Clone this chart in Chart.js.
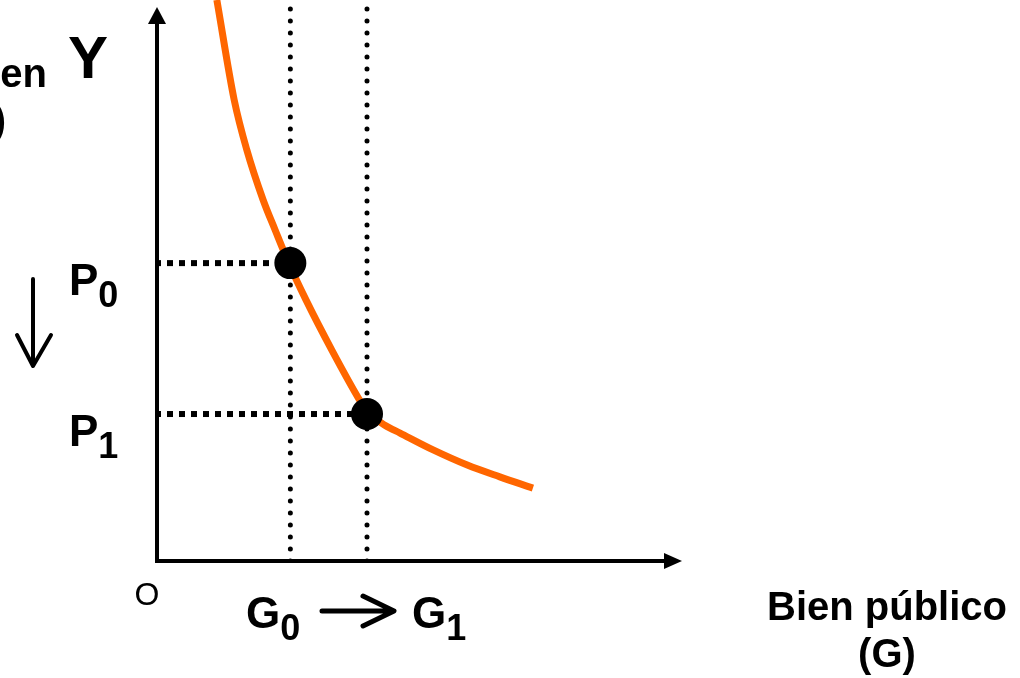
<!DOCTYPE html>
<html>
<head>
<meta charset="utf-8">
<script src="https://cdn.jsdelivr.net/npm/chart.js@4.4.0/dist/chart.umd.min.js"></script>
<style>
  html, body { margin: 0; padding: 0; background: #fff; }
  #wrap { width: 1020px; height: 678px; }
</style>
</head>
<body>
<div id="wrap"><canvas id="chart" width="1020" height="678"></canvas></div>
<script>
// curva (lectura aproximada de la figura), unidades arbitrarias 0-10
const curveG = [1.14, 1.47, 1.71, 2.02, 2.25, 2.51, 2.84, 3.33, 3.87, 4.00, 4.15, 4.34, 4.63, 5.26, 5.91, 6.53, 7.16];
const curveY = [10.0, 8.22, 7.33, 6.44, 5.90, 5.31, 4.65, 3.76, 2.85, 2.66, 2.55, 2.42, 2.28, 1.98, 1.71, 1.50, 1.30];

// puntos de equilibrio
const pointLabels = ["0", "1"];
const pointG = [2.54, 4.0];
const pointP = [5.31, 2.62];

const axisMax = 10;

const FONT = '"Liberation Sans", Arial, sans-serif';
const ORANGE = "#ff6600";

const curveData = curveG.map((g, i) => ({ x: g, y: curveY[i] }));

const dotted = [];
pointG.forEach((g, i) => {
  // vertical punteada hasta arriba
  dotted.push({
    data: [{ x: g, y: 0 }, { x: g, y: axisMax }],
    showLine: true,
    borderColor: "#000",
    borderWidth: 5,
    borderDash: [0, 12],
    borderCapStyle: "round",
    pointRadius: 0,
    order: 3
  });
  // horizontal hasta el eje Y
  dotted.push({
    data: [{ x: 0, y: pointP[i] }, { x: g, y: pointP[i] }],
    showLine: true,
    borderColor: "#000",
    borderWidth: 6,
    borderDash: [6, 6],
    borderDashOffset: 2,
    borderCapStyle: "butt",
    pointRadius: 0,
    order: 3
  });
});

const subText = (ctx, main, sub, x, base, size, subSize, drop) => {
  ctx.textAlign = "left";
  ctx.textBaseline = "alphabetic";
  ctx.font = `bold ${size}px ${FONT}`;
  ctx.fillText(main, x, base);
  const w = ctx.measureText(main).width;
  ctx.font = `bold ${subSize}px ${FONT}`;
  ctx.fillText(sub, x + w, base + drop);
};

const arrowHead = (ctx, tipX, tipY, dx, dy, len, half) => {
  // punta rellena, dx/dy = direccion
  const bx = tipX - dx * len, by = tipY - dy * len;
  ctx.beginPath();
  ctx.moveTo(tipX, tipY);
  ctx.lineTo(bx - dy * half, by + dx * half);
  ctx.lineTo(bx + dy * half, by - dx * half);
  ctx.closePath();
  ctx.fill();
};

const decor = {
  id: "decor",
  afterDatasetsDraw(chart) {
    const { ctx, chartArea, scales } = chart;
    const x0 = scales.x.getPixelForValue(0);
    const y0 = scales.y.getPixelForValue(0);
    ctx.save();
    ctx.fillStyle = "#000";
    ctx.strokeStyle = "#000";

    // ejes
    ctx.lineWidth = 4;
    ctx.lineCap = "butt";
    ctx.beginPath();
    ctx.moveTo(x0, chartArea.top + 20);
    ctx.lineTo(x0, y0);
    ctx.lineTo(chartArea.right - 16, y0);
    ctx.stroke();
    arrowHead(ctx, x0, chartArea.top + 7, 0, -1, 17, 9);
    arrowHead(ctx, chartArea.right, y0, 1, 0, 18, 8);

    // textos
    ctx.textBaseline = "alphabetic";
    ctx.font = `bold 60px ${FONT}`;
    ctx.textAlign = "center";
    ctx.fillText("Y", x0 - 69, 78);

    ctx.font = `bold 40px ${FONT}`;
    ctx.textAlign = "right";
    ctx.fillText("Otro bien", 47, 87);
    ctx.fillText("(Y)", 6, 134);

    ctx.textAlign = "center";
    ctx.fillText("Bien público", 887, 620);
    ctx.fillText("(G)", 887, 667);

    ctx.font = `32px ${FONT}`;
    ctx.fillText("O", x0 - 10, 605);

    pointP.forEach((p, i) => {
      const py = scales.y.getPixelForValue(p);
      subText(ctx, "P", pointLabels[i], 69, py + 32, 44, 36, 12);
    });
    const gLabelX = [246, 412];
    pointG.forEach((g, i) => {
      subText(ctx, "G", pointLabels[i], gLabelX[i], y0 + 67, 44, 36, 12);
    });

    // flecha hacia abajo (P0 -> P1)
    ctx.lineWidth = 4;
    ctx.lineCap = "round";
    ctx.lineJoin = "round";
    ctx.beginPath();
    ctx.moveTo(33, 279);
    ctx.lineTo(33, 366);
    ctx.moveTo(17, 335);
    ctx.lineTo(33, 366);
    ctx.lineTo(51, 335);
    ctx.stroke();

    // flecha G0 -> G1
    ctx.lineWidth = 5;
    ctx.beginPath();
    ctx.moveTo(322, 611);
    ctx.lineTo(393, 611);
    ctx.moveTo(363, 596);
    ctx.lineTo(394, 611);
    ctx.lineTo(363, 626);
    ctx.stroke();

    ctx.restore();
  }
};

new Chart(document.getElementById("chart"), {
  type: "scatter",
  data: {
    datasets: [
      {
        data: pointG.map((g, i) => ({ x: g, y: pointP[i] })),
        backgroundColor: "#000",
        borderColor: "#000",
        pointRadius: 16,
        pointBorderWidth: 0,
        order: 0
      },
      {
        data: curveData,
        showLine: true,
        borderColor: ORANGE,
        borderWidth: 7,
        cubicInterpolationMode: "monotone",
        pointRadius: 0,
        order: 1
      },
      ...dotted
    ]
  },
  options: {
    responsive: false,
    animation: false,
    events: [],
    layout: { autoPadding: false, padding: { left: 157, right: 338, top: 0, bottom: 117 } },
    plugins: {
      legend: { display: false },
      tooltip: { enabled: false }
    },
    scales: {
      x: { type: "linear", min: 0, max: axisMax, display: false },
      y: { type: "linear", min: 0, max: axisMax, display: false }
    }
  },
  plugins: [decor]
});
</script>
</body>
</html>
